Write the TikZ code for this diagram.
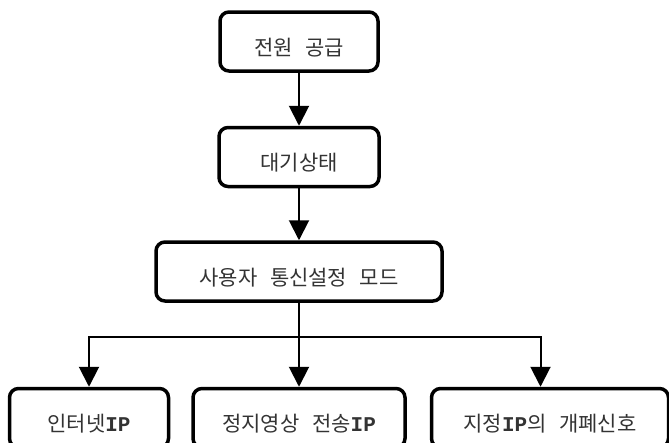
\documentclass[tikz,border=0pt]{standalone}
\usepackage{fontspec}
\setmainfont{Noto Sans CJK KR}[WordSpace=2.7]
\newfontfamily\ipfamily{Liberation Mono}
\newcommand{\ipword}{{\ipfamily\bfseries IP}}
\usepackage{tikz}
\usetikzlibrary{positioning, arrows.meta}
\tikzset{
>={Triangle[width=20pt, length=20pt]}, % big filled arrow heads
node distance=53pt, % gap between two boxes. Change if necessary.
every node/.style={font=\fontsize{21}{25}\selectfont, text=black!80}, % text of every box
}

\begin{document}
\begin{tikzpicture}[
  stepbox/.style={draw, line width=3.5pt, rounded corners=9pt, minimum height=59pt,
    text height=27pt, text depth=0pt, inner sep=0pt},
  link/.style={->, line width=2pt}
]
  \useasboundingbox (0,0) rectangle (669pt,-442pt);
  \node[stepbox, minimum width=158pt] (power) at (299pt,-41.5pt) {전원 공급};
  \node[stepbox, minimum width=160pt, below=of power] (standby) {대기상태};
  \node[stepbox, minimum width=286pt, below=52pt of standby] (usermode) {사용자 통신설정 모드};
  \node[stepbox, minimum width=212pt, below=84pt of usermode] (stillip) {정지영상 전송\ipword};
  \node[stepbox, minimum width=159pt, left=21pt of stillip] (netip) {인터넷\ipword};
  \node[stepbox, minimum width=237pt, right=23pt of stillip] (fixedip) {지정\ipword 의 개폐신호};
  \coordinate (fork) at (300pt,-337pt);

  \draw[link] (power) -- (standby);
  \draw[link] (standby) -- (usermode);
  \draw[link] (usermode) -- (stillip);
  \draw[link] (fork) -| (netip.north);
  \draw[link] (fork) -| ([xshift=-9.5pt]fixedip.north);
\end{tikzpicture}
\end{document}
